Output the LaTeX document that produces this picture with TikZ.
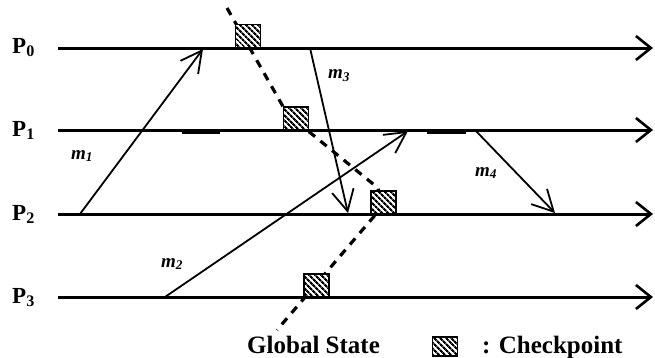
\documentclass[tikz,border=0pt]{standalone}
\usepackage{fontspec}
\setmainfont{Liberation Serif}
\usetikzlibrary{arrows.meta,patterns.meta}
\begin{document}
\begin{tikzpicture}[x=1pt,y=-1pt,
 proc/.style={line width=3pt,-{Straight Barb[length=15pt,width=24pt,line width=2.6pt]}},
 msg/.style={line width=1.8pt,-{Straight Barb[length=21pt,width=22pt,line width=1.8pt]}},
 plabel/.style={font=\bfseries\fontsize{23}{23}\selectfont, anchor=base west, inner sep=0pt},
 mlabel/.style={font=\bfseries\itshape\fontsize{19}{19}\selectfont, inner sep=0pt},
 btext/.style={font=\bfseries\fontsize{25}{25}\selectfont, anchor=base west, inner sep=0pt},
 ckpt/.style={draw=black, line width=1.5pt, preaction={fill=white},
   pattern={Lines[angle=-45,distance=4pt,line width=2.2pt]}, pattern color=black,
   minimum width=25pt, minimum height=23pt, inner sep=0pt},
 gs/.style={line width=3.2pt, dash pattern=on 8pt off 7pt},
 blob/.style={line width=3pt},
]
\useasboundingbox (0,0) rectangle (655,357);

% process lines
\coordinate (a0) at (58,48);  \coordinate (b0) at (653,48);
\coordinate (a1) at (58,130); \coordinate (b1) at (653,130);
\coordinate (a2) at (58,214); \coordinate (b2) at (653,214);
\coordinate (a3) at (58,297); \coordinate (b3) at (653,297);
\draw[proc] (a0) -- (b0);
\draw[proc] (a1) -- (b1);
\draw[proc] (a2) -- (b2);
\draw[proc] (a3) -- (b3);

\node[plabel] (l0) at (12,53) {P\textsubscript{0}};
\node[plabel] (l1) at (12,136) {P\textsubscript{1}};
\node[plabel] (l2) at (12,220) {P\textsubscript{2}};
\node[plabel] (l3) at (12,303) {P\textsubscript{3}};

% small thick marks on P1
\coordinate (k1) at (182,132); \coordinate (k2) at (220,132);
\coordinate (k3) at (427,132); \coordinate (k4) at (466,132);
\draw[blob] (k1) -- (k2);
\draw[blob] (k3) -- (k4);

% messages
\coordinate (m1s) at (80,214);  \coordinate (m1e) at (203,49);
\coordinate (m3s) at (310,48);  \coordinate (m3e) at (348,213);
\coordinate (m2s) at (165,297); \coordinate (m2e) at (408,131);
\coordinate (m4s) at (475,130); \coordinate (m4e) at (555,213);
\draw[msg] (m1s) -- (m1e);
\draw[msg] (m3s) -- (m3e);
\draw[msg] (m2s) -- (m2e);
\draw[msg] (m4s) -- (m4e);

\node[mlabel] (t1) at (82,156) {m\textsubscript{1}};
\node[mlabel] (t3) at (339,76) {m\textsubscript{3}};
\node[mlabel] (t2) at (172,264) {m\textsubscript{2}};
\node[mlabel] (t4) at (486,173) {m\textsubscript{4}};

% global state (dashed)
\coordinate (g0) at (227,8);
\coordinate (g1) at (289,117);
\coordinate (g2) at (302,126);
\coordinate (g3) at (378,188);
\coordinate (g4) at (382,207);
\coordinate (g5) at (277,330);
\draw[gs] (g0) -- (g1) -- (g2) -- (g3) -- (g4) -- (g5);

% checkpoints
\node[ckpt] (c0) at (248,36) {};
\node[ckpt] (c1) at (296,118.5) {};
\node[ckpt] (c2) at (383.5,202.5) {};
\node[ckpt] (c3) at (316.5,285.5) {};

% legend
\node[btext] (gst) at (247,353) {Global State};
\node[ckpt, minimum height=19pt] (lg) at (445,346.5) {};
\node[btext] (lgt) at (482,353) {: Checkpoint};
\end{tikzpicture}
\end{document}
